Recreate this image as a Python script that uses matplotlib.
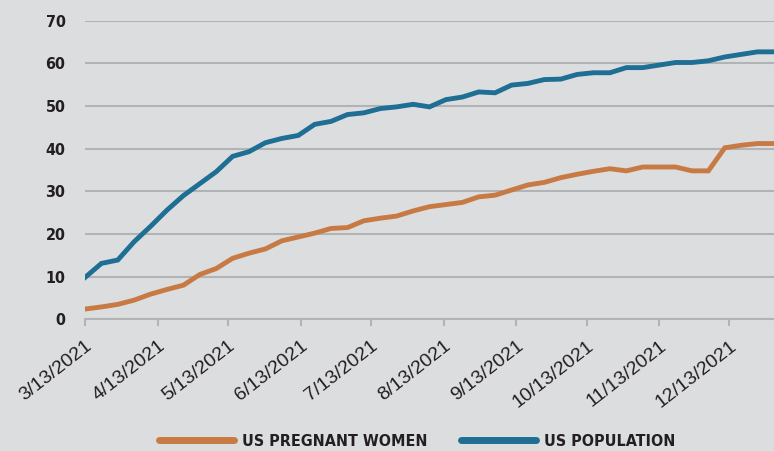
import matplotlib
matplotlib.use("Agg")
import matplotlib.pyplot as plt
import pandas as pd
from matplotlib.font_manager import FontProperties

# weekly values, starting 3/13/2021
start_date = "2021-03-13"
us_pregnant = [2.4, 2.9, 3.5, 4.5, 5.9, 7.0, 8.0, 10.5, 11.9, 14.3, 15.5, 16.5, 18.4,
               19.3, 20.2, 21.3, 21.5, 23.1, 23.7, 24.2, 25.4, 26.4, 26.9, 27.4, 28.7,
               29.1, 30.3, 31.5, 32.1, 33.2, 34.0, 34.7, 35.3, 34.8, 35.7, 35.7, 35.7,
               34.8, 34.8, 40.2, 40.8, 41.2, 41.2]
us_population = [9.8, 13.1, 13.9, 18.2, 21.8, 25.6, 29.0, 31.8, 34.6, 38.2, 39.3, 41.4,
                 42.4, 43.1, 45.7, 46.4, 48.0, 48.4, 49.4, 49.8, 50.4, 49.8, 51.5, 52.1,
                 53.3, 53.1, 54.9, 55.3, 56.2, 56.3, 57.4, 57.8, 57.8, 59.0, 59.0, 59.6,
                 60.2, 60.2, 60.6, 61.5, 62.1, 62.7, 62.7]
tick_dates = ["2021-03-13", "2021-04-13", "2021-05-13", "2021-06-13", "2021-07-13",
              "2021-08-13", "2021-09-13", "2021-10-13", "2021-11-13", "2021-12-13"]
tick_labels = ["3/13/2021", "4/13/2021", "5/13/2021", "6/13/2021", "7/13/2021",
               "8/13/2021", "9/13/2021", "10/13/2021", "11/13/2021", "12/13/2021"]
y_ticks = [0, 10, 20, 30, 40, 50, 60, 70]

dates = pd.date_range(start_date, periods=len(us_pregnant), freq="7D")

bg = "#dcdddf"
orange = "#c87a45"
blue = "#1f6e94"
grid = "#b2b3b5"
dark = "#231f20"

ytick_font = FontProperties(family="DejaVu Sans", weight="bold", stretch="condensed", size=11.5)
legend_font = FontProperties(family="DejaVu Sans", weight="bold", stretch="condensed", size=11.5)

fig = plt.figure(figsize=(7.74, 4.51), dpi=100, facecolor=bg)
ax = fig.add_axes([85 / 774, 1 - 319.3 / 451, 1 - 85 / 774, (319.3 - 20.7) / 451])
ax.set_facecolor(bg)

ax.plot(dates, us_pregnant, color=orange, lw=3.5, solid_joinstyle="miter",
        label="US PREGNANT WOMEN", zorder=3)
ax.plot(dates, us_population, color=blue, lw=3.5, solid_joinstyle="miter",
        label="US POPULATION", zorder=3)

ax.set_ylim(0, 70)
ax.set_xlim(dates[0], dates[-1])
ax.set_yticks(y_ticks)
ax.set_yticklabels([str(v) for v in y_ticks], fontproperties=ytick_font, color=dark)
ax.tick_params(axis="y", length=0, pad=14)
ax.yaxis.grid(True, color=grid, lw=1.5)
ax.set_axisbelow(True)

ax.set_xticks([pd.Timestamp(d) for d in tick_dates])
ax.set_xticklabels(tick_labels, rotation=38, ha="right", va="top",
                   rotation_mode="anchor", fontsize=14, color=dark,
                   family="Liberation Sans")
ax.tick_params(axis="x", length=5, width=1.5, color=grid, pad=8)

for s in ["top", "right", "left"]:
    ax.spines[s].set_visible(False)
ax.spines["bottom"].set_color(grid)
ax.spines["bottom"].set_linewidth(1.5)

leg = fig.legend(loc="center", bbox_to_anchor=(417 / 774, 1 - 441 / 451), ncol=2,
                 frameon=False, handlelength=4.7, handletextpad=0.5,
                 columnspacing=2.1, prop=legend_font)
for h in leg.legend_handles:
    h.set_linewidth(5)
    h.set_solid_capstyle("round")
for t in leg.get_texts():
    t.set_color(dark)

fig.savefig("out.png", dpi=100, facecolor=bg)
